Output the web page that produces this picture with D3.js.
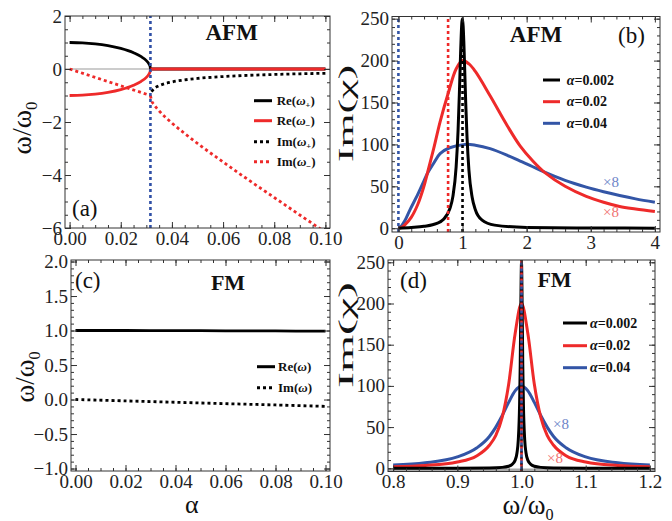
<!DOCTYPE html>
<html>
<head>
<meta charset="utf-8">
<script src="https://cdn.jsdelivr.net/npm/d3@7"></script>
<style>
body { margin: 0; background: #fff; }
svg { display: block; }
svg text { font-family: "Liberation Serif", "Times New Roman", serif; }
</style>
</head>
<body>
<svg id="fig" width="672" height="521"></svg>
<script>
// ---------- panel (a): AFM eigenfrequencies vs alpha ----------
const alphaC = 0.0316;
const aRePlusX = [0, 0.005, 0.01, 0.015, 0.02, 0.025, 0.028, 0.03, 0.031, 0.0313, 0.0315, 0.0316];
const aRePlusY = [1, 0.988, 0.949, 0.880, 0.775, 0.612, 0.464, 0.316, 0.195, 0.138, 0.08, 0];
const aReMinusY = [-1, -0.988, -0.949, -0.880, -0.775, -0.612, -0.464, -0.316, -0.195, -0.138, -0.08, 0];
const aReZeroX = [0.0316, 0.1];
const aReZeroY = [0, 0];
const aImMinusLowX = [0, 0.0316];
const aImMinusLowY = [0, -1];
const aImMinusX = [0.0316, 0.032, 0.033, 0.035, 0.04, 0.045, 0.05, 0.06, 0.07, 0.08, 0.09, 0.1];
const aImMinusY = [-1, -1.17, -1.345, -1.58, -2.04, -2.435, -2.81, -3.51, -4.19, -4.85, -5.51, -6.16];
const aImPlusX = [0.032, 0.033, 0.035, 0.04, 0.045, 0.05, 0.06, 0.07, 0.08, 0.09, 0.1];
const aImPlusY = [-0.853, -0.743, -0.632, -0.49, -0.41, -0.356, -0.285, -0.239, -0.206, -0.181, -0.162];

// ---------- panel (b): AFM Im(chi) ----------
const bBlackX = [0, 0.2, 0.4, 0.6, 0.7, 0.8, 0.85, 0.9, 0.93, 0.95, 0.97, 0.98, 0.99, 1.0, 1.01, 1.02, 1.03, 1.05, 1.07, 1.1, 1.15, 1.2, 1.3, 1.5, 2, 3, 4];
const bBlackY = [0, 0.9, 2.3, 5.8, 10.4, 22.9, 38, 73, 116, 159, 209, 231, 246, 250, 241, 223, 199, 149, 109, 69, 37, 22, 10, 3.7, 0.9, 0.2, 0.1];
const bRedX = [0, 0.05, 0.1, 0.2, 0.3, 0.39, 0.45, 0.55, 0.65, 0.78, 0.9, 1.0, 1.1, 1.2, 1.43, 1.7, 1.9, 2.1, 2.29, 2.6, 2.93, 3.2, 3.45, 3.7, 4.0];
const bRedY = [0, 1, 4, 13, 28, 48, 65, 95, 127, 162, 190, 200, 196, 187, 158, 122, 98, 80, 66, 50, 38, 31, 26, 23, 20];
const bBlueX = [0, 0.05, 0.1, 0.18, 0.3, 0.39, 0.45, 0.545, 0.65, 0.8, 1.04, 1.2, 1.43, 1.7, 1.9, 2.05, 2.29, 2.6, 2.93, 3.2, 3.45, 3.7, 4.0];
const bBlueY = [0, 3, 9, 22, 40, 55, 65, 77, 89, 96, 100, 99, 95, 87, 80, 75, 66.5, 57, 49, 43.5, 39, 35, 31];
const bReOmega = [1.0, 0.775, 0.0];   // Re(w+) for alpha = 0.002, 0.02, 0.04

// ---------- panel (c): FM eigenfrequency vs alpha ----------
const cAlpha = [0, 0.02, 0.04, 0.06, 0.08, 0.1];
const cRe = [1, 1.0, 0.998, 0.996, 0.994, 0.99];
const cIm = [0, -0.02, -0.04, -0.06, -0.079, -0.099];

// ---------- panel (d): FM Im(chi) ----------
const dBlackX = [0.8, 0.9, 0.95, 0.97, 0.98, 0.985, 0.99, 0.993, 0.995, 0.997, 0.998, 0.999, 1.0, 1.001, 1.002, 1.003, 1.005, 1.007, 1.01, 1.015, 1.02, 1.03, 1.05, 1.1, 1.2];
const dBlackY = [0.03, 0.1, 0.4, 1.1, 2.5, 4.4, 9.6, 18.9, 34.5, 77, 125, 200, 250, 200, 125, 77, 34.5, 18.9, 9.6, 4.4, 2.5, 1.1, 0.4, 0.1, 0.03];
const dX = [0.8, 0.85, 0.9, 0.93, 0.95, 0.96, 0.97, 0.98, 0.99, 1.0, 1.01, 1.02, 1.03, 1.04, 1.05, 1.07, 1.1, 1.15, 1.2];
const dRedY = [2, 3.5, 7.7, 15, 28, 40, 62, 102, 163, 200, 163, 102, 62, 40, 28, 15, 7.7, 3.5, 2];
const dBlueY = [3.9, 6.6, 13.8, 24.6, 38.6, 50, 64, 80, 94, 100, 94, 80, 64, 50, 38.6, 24.6, 13.8, 6.6, 3.9];

// tick labels
const aTicksX = [0, 0.02, 0.04, 0.06, 0.08, 0.1];
const aTicksY = [2, 0, -2, -4, -6];
const bTicksX = [0, 1, 2, 3, 4];
const bTicksY = [0, 50, 100, 150, 200, 250];
const cTicksY = [2, 1.5, 1, 0.5, 0, -0.5, -1];
const dTicksX = [0.8, 0.9, 1.0, 1.1, 1.2];

const RED = "#ee2a2a", BLUE = "#3355a6", BLACK = "#000";
const SERIF = "'Liberation Serif', 'Times New Roman', serif";
const svg = d3.select("#fig");

function panel(id, box, xdom, ydom, xMaj, xMin, yMaj, yMin, xfmt, yfmt) {
  const x = d3.scaleLinear().domain(xdom).range([box.l, box.r]);
  const y = d3.scaleLinear().domain(ydom).range([box.b, box.t]);
  const g = svg.append("g").attr("id", id);

  g.append("clipPath").attr("id", "clip-" + id)
    .append("rect").attr("x", box.l).attr("y", box.t)
    .attr("width", box.r - box.l).attr("height", box.b - box.t);
  const plot = g.append("g").attr("clip-path", "url(#clip-" + id + ")");

  const axes = g.append("g").attr("class", "axes");
  const addAxis = (gen, tx, ty, vals, size, fmt) => {
    const a = axes.append("g").attr("transform", `translate(${tx},${ty})`)
      .call(gen.tickValues(vals).tickSize(size).tickPadding(3).tickFormat(fmt || ""));
    a.attr("font-family", null).attr("font-size", null);
    a.select(".domain").remove();
    a.selectAll("line").attr("stroke", "#333");
    a.selectAll("text")
      .style("font-family", SERIF)
      .style("font-size", "19px")
      .attr("fill", "#222");
    return a;
  };
  addAxis(d3.axisBottom(x), 0, box.b, xMaj, -6, xfmt);
  addAxis(d3.axisBottom(x), 0, box.b, xMin, -3);
  addAxis(d3.axisTop(x), 0, box.t, xMaj, -6);
  addAxis(d3.axisTop(x), 0, box.t, xMin, -3);
  addAxis(d3.axisLeft(y), box.l, 0, yMaj, -6, yfmt);
  addAxis(d3.axisLeft(y), box.l, 0, yMin, -3);
  addAxis(d3.axisRight(y), box.r, 0, yMaj, -6);
  addAxis(d3.axisRight(y), box.r, 0, yMin, -3);

  g.append("rect").attr("x", box.l).attr("y", box.t)
    .attr("width", box.r - box.l).attr("height", box.b - box.t)
    .attr("fill", "none").attr("stroke", "#333").attr("stroke-width", 1);

  return { g, plot, x, y };
}

// smooth curves use Catmull-Rom, the narrow spikes use monotone so the peak stays put
function curve(p, xs, ys, color, width, dash, spike) {
  const line = d3.line()
    .x((d, i) => p.x(xs[i]))
    .y(d => p.y(d))
    .curve(spike ? d3.curveMonotoneX : d3.curveCatmullRom.alpha(0.5));
  const path = p.plot.append("path").datum(ys)
    .attr("d", line)
    .attr("fill", "none")
    .attr("stroke", color)
    .attr("stroke-width", width);
  if (dash) path.attr("stroke-dasharray", dash);
  return path;
}

function vline(p, xv, color, offset) {
  p.plot.append("line")
    .attr("x1", p.x(xv)).attr("x2", p.x(xv))
    .attr("y1", p.y.range()[0]).attr("y2", p.y.range()[1])
    .attr("stroke", color).attr("stroke-width", 2.6)
    .attr("stroke-dasharray", "3,3").attr("stroke-dashoffset", offset || 0);
}

function label(g, x, y, txt, size, opts) {
  opts = opts || {};
  const t = g.append("text").attr("x", x).attr("y", y)
    .style("font-family", SERIF)
    .style("font-size", size + "px")
    .attr("text-anchor", opts.anchor || "start")
    .attr("fill", opts.fill || "#111")
    .text(txt);
  if (opts.bold) t.style("font-weight", "bold");
  return t;
}

function omegaLabel(g, x, y, size, rotate) {
  const t = g.append("text")
    .attr("transform", `translate(${x},${y})` + (rotate ? " rotate(-90)" : ""))
    .attr("text-anchor", "middle")
    .style("font-family", SERIF)
    .style("font-size", size + "px").attr("fill", "#111");
  t.append("tspan").text("ω/ω");
  t.append("tspan").text("0").style("font-size", (size * 0.6) + "px").attr("dy", size * 0.22);
  return t;
}

// the Im(chi) label is drawn long and narrow, like in the original figure
function chiLabel(g, x, y, len) {
  g.append("text").attr("transform", `translate(${x},${y}) rotate(-90) scale(1,0.55)`)
    .attr("text-anchor", "middle")
    .style("font-family", SERIF)
    .style("font-size", "40px").attr("fill", "#111")
    .attr("textLength", len).attr("lengthAdjust", "spacingAndGlyphs").text("Im(χ)");
}

function legendEntry(g, x1, x2, tx, yy, color, dash, parts, size) {
  const l = g.append("line").attr("x1", x1).attr("x2", x2).attr("y1", yy).attr("y2", yy)
    .attr("stroke", color).attr("stroke-width", 3);
  if (dash) l.attr("stroke-dasharray", dash);
  const t = g.append("text").attr("x", tx).attr("y", yy + size * 0.33)
    .style("font-family", SERIF)
    .style("font-size", size + "px").style("font-weight", "bold").attr("fill", "#111");
  parts.forEach(pt => {
    const s = t.append("tspan").text(pt.t);
    if (pt.i) s.style("font-style", "italic");
    if (pt.sub) s.style("font-size", (size * 0.65) + "px").attr("dy", size * 0.25);
    if (pt.up) s.attr("dy", -size * 0.25);
  });
}

// ---------------- (a) ----------------
const pa = panel("pa", { l: 65, r: 330, t: 16, b: 228 }, [-0.0018, 0.1018], [-6, 2],
  aTicksX, d3.range(0, 0.1001, 0.005), aTicksY, d3.range(-6, 2.001, 0.5),
  d3.format(".2f"), d3.format("d"));
pa.plot.append("line").attr("x1", 65).attr("x2", 330).attr("y1", pa.y(0)).attr("y2", pa.y(0))
  .attr("stroke", "#999").attr("stroke-width", 1);
curve(pa, aRePlusX, aRePlusY, BLACK, 2.8, null, true);
curve(pa, aReZeroX, aReZeroY, BLACK, 2.8);
curve(pa, aImPlusX, aImPlusY, BLACK, 2.8, "3,3", true);
curve(pa, aImMinusLowX, aImMinusLowY, RED, 2.8, "3,3");
curve(pa, aImMinusX, aImMinusY, RED, 2.8, "3,3", true);
curve(pa, aRePlusX, aReMinusY, RED, 2.8, null, true);
curve(pa, aReZeroX, aReZeroY, RED, 2.8);
vline(pa, alphaC, "#2f4fa6");
label(pa.g, 231.7, 40, "AFM", 23, { anchor: "middle", bold: true });
label(pa.g, 72, 216, "(a)", 23);
omegaLabel(pa.g, 31, 128, 28, true);
legendEntry(pa.g, 254, 272, 276.7, 100.7, BLACK, null, [{ t: "Re(" }, { t: "ω", i: true }, { t: "+", sub: true }, { t: ")", up: true }], 13);
legendEntry(pa.g, 254, 272, 276.7, 120.7, RED, null, [{ t: "Re(" }, { t: "ω", i: true }, { t: "−", sub: true }, { t: ")", up: true }], 13);
legendEntry(pa.g, 254, 272, 276.7, 141.7, BLACK, "3,3", [{ t: "Im(" }, { t: "ω", i: true }, { t: "+", sub: true }, { t: ")", up: true }], 13);
legendEntry(pa.g, 254, 272, 276.7, 161.7, RED, "3,3", [{ t: "Im(" }, { t: "ω", i: true }, { t: "−", sub: true }, { t: ")", up: true }], 13);

// ---------------- (b) ----------------
const pb = panel("pb", { l: 392, r: 660, t: 16.5, b: 232 }, [-0.1, 4.08], [-4.5, 252.6],
  bTicksX, d3.range(0, 4.001, 0.2), bTicksY, d3.range(0, 250.1, 10),
  d3.format("d"), d3.format("d"));
curve(pb, bBlueX, bBlueY, BLUE, 3);
curve(pb, bRedX, bRedY, RED, 3);
curve(pb, bBlackX, bBlackY, BLACK, 3, null, true);
vline(pb, bReOmega[2], BLUE);
vline(pb, bReOmega[1], RED);
vline(pb, bReOmega[0], BLACK);
label(pb.g, 536, 42, "AFM", 23, { anchor: "middle", bold: true });
label(pb.g, 618, 43, "(b)", 23);
chiLabel(pb.g, 353, 113.5, 97);
legendEntry(pb.g, 543, 560, 566.7, 80, BLACK, null, [{ t: "α", i: true }, { t: "=0.002" }], 14);
legendEntry(pb.g, 543, 560, 566.7, 101.7, RED, null, [{ t: "α", i: true }, { t: "=0.02" }], 14);
legendEntry(pb.g, 543, 560, 566.7, 123.3, BLUE, null, [{ t: "α", i: true }, { t: "=0.04" }], 14);
label(pb.g, 603, 187, "×8", 15, { fill: "#6d84c8" });
label(pb.g, 603, 217, "×8", 15, { fill: "#f07272" });

// ---------------- (c) ----------------
const pc = panel("pc", { l: 71, r: 330, t: 260, b: 471 }, [-0.0018, 0.1018], [-1.036, 2.022],
  aTicksX, d3.range(0, 0.1001, 0.005), cTicksY, d3.range(-1, 2.001, 0.1),
  d3.format(".2f"), d3.format(".1f"));
curve(pc, cAlpha, cRe, BLACK, 2.8);
curve(pc, cAlpha, cIm, BLACK, 2.8, "3,3");
label(pc.g, 75, 288, "(c)", 23);
label(pc.g, 228, 290, "FM", 22, { anchor: "middle", bold: true });
omegaLabel(pc.g, 34, 377, 27, true);
label(pc.g, 191.7, 513, "α", 26, { anchor: "middle" });
legendEntry(pc.g, 257, 275, 278, 366.7, BLACK, null, [{ t: "Re(" }, { t: "ω", i: true }, { t: ")" }], 13);
legendEntry(pc.g, 257, 275, 278, 387.7, BLACK, "3,3", [{ t: "Im(" }, { t: "ω", i: true }, { t: ")" }], 13);

// ---------------- (d) ----------------
const pd = panel("pd", { l: 388, r: 655, t: 260, b: 471.5 }, [0.792, 1.208], [-3.9, 252.8],
  dTicksX, d3.range(0.8, 1.2001, 0.02), bTicksY, d3.range(0, 250.1, 10),
  d3.format(".1f"), d3.format("d"));
pd.plot.append("line").attr("x1", 388).attr("x2", 655).attr("y1", pd.y(0) + 1.5).attr("y2", pd.y(0) + 1.5)
  .attr("stroke", "#aaa").attr("stroke-width", 2.5);
curve(pd, dX, dBlueY, BLUE, 3, null, true);
curve(pd, dX, dRedY, RED, 3, null, true);
curve(pd, dBlackX, dBlackY, BLACK, 3, null, true);
vline(pd, 1.0, BLACK, 0);
vline(pd, 1.0, RED, 2);
vline(pd, 1.0, BLUE, 4);
label(pd.g, 400, 288, "(d)", 23);
label(pd.g, 554.5, 287, "FM", 22, { anchor: "middle", bold: true });
chiLabel(pd.g, 353, 335, 106);
omegaLabel(pd.g, 528, 514, 27, false);
legendEntry(pd.g, 563, 587, 590, 323, BLACK, null, [{ t: "α", i: true }, { t: "=0.002" }], 14);
legendEntry(pd.g, 563, 587, 590, 345.7, RED, null, [{ t: "α", i: true }, { t: "=0.02" }], 14);
legendEntry(pd.g, 563, 587, 590, 367.7, BLUE, null, [{ t: "α", i: true }, { t: "=0.04" }], 14);
label(pd.g, 553, 429, "×8", 15, { fill: "#6d84c8" });
label(pd.g, 547, 463, "×8", 15, { fill: "#f07272" });
</script>
</body>
</html>
